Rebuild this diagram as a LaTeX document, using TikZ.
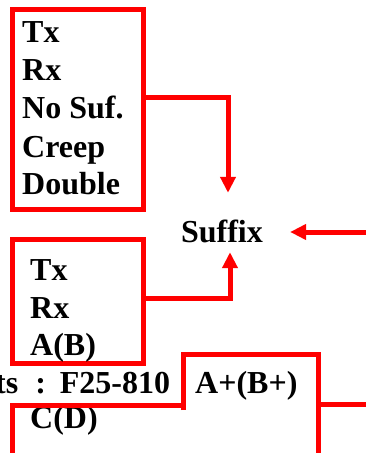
\documentclass[tikz,border=0pt]{standalone}
\usepackage{fontspec}
\setmainfont{Liberation Serif}
\usetikzlibrary{arrows.meta}
\newcommand{\bigtxt}{\fontsize{32}{38}\selectfont\bfseries}

\begin{document}
\begin{tikzpicture}[x=1pt,y=-1pt,
    box/.style={draw=red,line width=5pt,inner sep=0pt,minimum width=131pt},
    lbl/.style={anchor=base west,inner sep=0pt,font=\bigtxt},
    redline/.style={draw=red,line width=5pt},
    arr/.style={redline,-{Triangle[width=15pt,length=16pt]}}]
    \useasboundingbox (0,0) rectangle (366,453);
    \clip (0,0) rectangle (366,453);
    % upper box
    \node[box,minimum height=200pt] (tbl1) at (77.5,109) {};
    \foreach \s/\y [count=\i] in {Tx/42,Rx/80,No Suf./118,Creep/157,Double/194}
        \node[lbl] (a\i) at (22,\y) {\s};
    % lower box
    \node[box,minimum height=123.5pt] (tbl2) at (77.5,301.25) {};
    \foreach \s/\y [count=\i] in {Tx/280,Rx/318,A(B)/355}
        \node[lbl] (b\i) at (30,\y) {\s};
    % suffix
    \node[anchor=base,font=\bigtxt,inner xsep=27pt,inner ysep=0pt,
          text height=49pt,text depth=10pt] (suffix) at (222,242) {Suffix};
    \coordinate (rin) at (370,232);
    \draw[arr] ([yshift=12pt]tbl1.east) -| ([xshift=6pt]suffix.north);
    \draw[arr] ([yshift=3pt]tbl2.east) -| ([xshift=8pt]suffix.south);
    \draw[arr] (rin) -- ([yshift=-9.5pt]suffix.east);
    % bottom part
    \node[lbl] (parts) at (-5,393) {ts\hspace{17pt}:\hspace{14pt}F25-810};
    \node[lbl] (c1) at (195,393) {A+(B+)};
    \node[lbl] (c2) at (30,428) {C(D)};
    \draw[redline] (12.5,460) |- (183,405.5);
    \draw[redline] (183,410) |- (318,354.5) -- (318,460);
    \coordinate (cbox) at (318,404.5);
    \coordinate (redge) at (370,404.5);
    \draw[redline] (cbox) -- (redge);
\end{tikzpicture}
\end{document}
